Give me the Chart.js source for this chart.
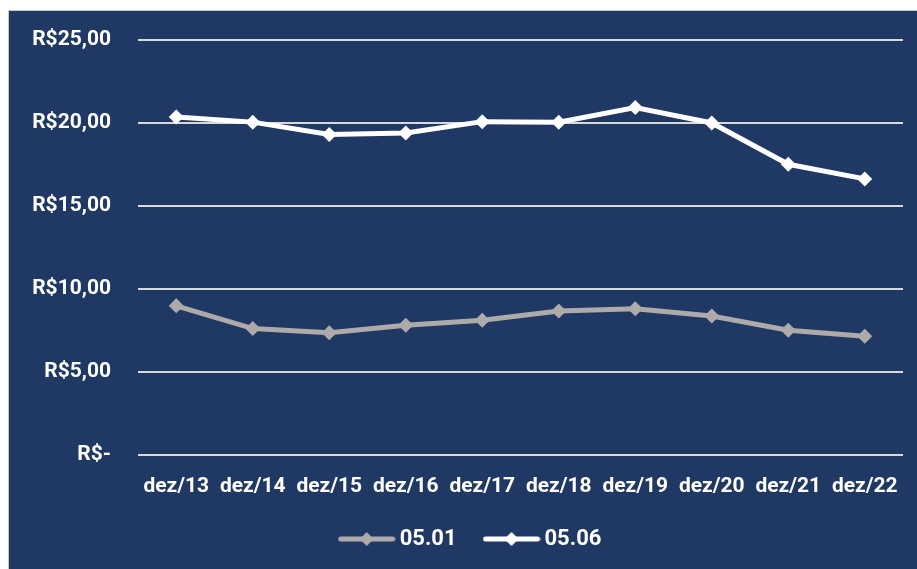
<!DOCTYPE html>
<html>
<head>
<meta charset="utf-8">
<script src="https://cdn.jsdelivr.net/npm/chart.js@4"></script>
<style>
  html, body { margin: 0; padding: 0; background: #ffffff; }
  #wrap {
    position: absolute; left: 8px; top: 10px; width: 909px; height: 559px;
    box-sizing: border-box; border-top: 1px solid #c4c4c4; border-left: 1px solid #c4c4c4;
    background: #203864;
  }
  #chart { display: block; }
</style>
</head>
<body>
<div id="wrap"><canvas id="chart" width="908" height="558"></canvas></div>
<script>
var categories = ['dez/13', 'dez/14', 'dez/15', 'dez/16', 'dez/17', 'dez/18', 'dez/19', 'dez/20', 'dez/21', 'dez/22'];
var serie0501 = [8.98, 7.61, 7.35, 7.81, 8.11, 8.67, 8.80, 8.36, 7.51, 7.15];
var serie0506 = [20.36, 20.05, 19.30, 19.40, 20.08, 20.04, 20.93, 20.00, 17.51, 16.63];
var yTickLabels = ['R$-', 'R$5,00', 'R$10,00', 'R$15,00', 'R$20,00', 'R$25,00'];

var FONT = 'Roboto, "Liberation Sans", sans-serif';

// legend sample: line with a diamond in the middle
function legendMark(color) {
  var c = document.createElement('canvas');
  c.width = 58; c.height = 16;
  var g = c.getContext('2d');
  g.strokeStyle = color;
  g.lineWidth = 5;
  g.lineCap = 'round';
  g.beginPath(); g.moveTo(3, 8); g.lineTo(55, 8); g.stroke();
  g.fillStyle = color;
  g.beginPath(); g.moveTo(29, 1); g.lineTo(36, 8); g.lineTo(29, 15); g.lineTo(22, 8); g.closePath(); g.fill();
  return c;
}

// nudge the legend a bit to the right, like the original
var legendShift = {
  id: 'legendShift',
  afterLayout: function (chart) {
    chart.legend.left += 17;
    chart.legend.right += 17;
  }
};

var ctx = document.getElementById('chart').getContext('2d');
new Chart(ctx, {
  type: 'line',
  data: {
    labels: categories,
    datasets: [{
      label: '05.01',
      data: serie0501,
      borderColor: '#aeaaaa',
      backgroundColor: '#aeaaaa',
      borderWidth: 5,
      pointStyle: 'rectRot',
      pointRadius: 7.5,
      pointBorderWidth: 0,
      fill: false
    }, {
      label: '05.06',
      data: serie0506,
      borderColor: '#ffffff',
      backgroundColor: '#ffffff',
      borderWidth: 5,
      pointStyle: 'rectRot',
      pointRadius: 7.5,
      pointBorderWidth: 0,
      fill: false
    }]
  },
  plugins: [legendShift],
  options: {
    responsive: false,
    animation: false,
    layout: { padding: { top: 29, right: 14, left: 0, bottom: 9 } },
    plugins: {
      tooltip: { enabled: false },
      legend: {
        position: 'bottom',
        labels: {
          color: '#ffffff',
          font: { family: FONT, size: 22, weight: 'bold' },
          usePointStyle: true,
          pointStyleWidth: 44,
          boxHeight: 16,
          padding: 33,
          generateLabels: function (chart) {
            return chart.data.datasets.map(function (ds, i) {
              return {
                text: ds.label,
                fontColor: '#ffffff',
                pointStyle: legendMark(ds.borderColor),
                datasetIndex: i,
                lineWidth: 0,
                hidden: false
              };
            });
          }
        }
      }
    },
    scales: {
      x: {
        offset: true,
        grid: { display: false },
        border: { display: false },
        afterFit: function (s) { s.height -= 15; },
        ticks: {
          color: '#ffffff',
          font: { family: FONT, size: 21, weight: 'bold' },
          padding: 11,
          maxRotation: 0,
          autoSkip: false
        }
      },
      y: {
        min: 0,
        max: 25,
        afterFit: function (s) { s.width = 129; s.paddingTop = 12; },
        grid: { color: '#d9d9d9', lineWidth: 2, drawTicks: false },
        border: { display: false },
        ticks: {
          stepSize: 5,
          padding: 27,
          color: '#ffffff',
          font: { family: FONT, size: 21, weight: 'bold' },
          callback: function (v) { return yTickLabels[Math.round(v / 5)]; }
        }
      }
    }
  }
});
</script>
</body>
</html>
